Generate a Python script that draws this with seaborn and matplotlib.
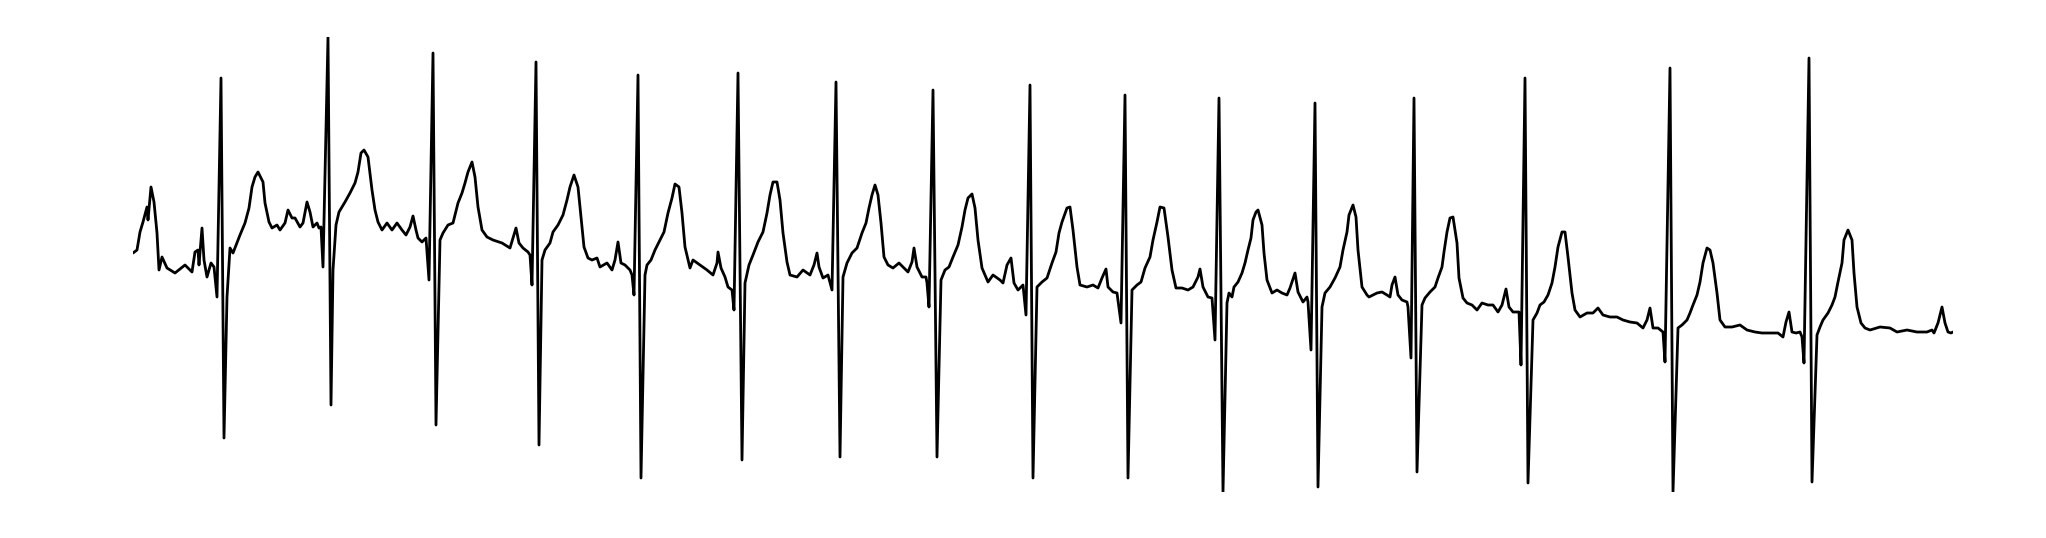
import matplotlib
matplotlib.use("Agg")
import matplotlib.pyplot as plt
import pandas as pd
import seaborn as sns

# ECG trace: sample index and amplitude (arbitrary units)
sample = [
    0, 4, 7, 10, 14, 15, 18, 21, 24, 26, 29, 34, 42, 52, 59, 62, 65, 66, 69, 71, 74, 78, 81, 84,
    88, 91, 94, 97, 100, 107, 112, 116, 119, 122, 125, 130, 132, 136, 139, 144, 147, 152,
    155, 159, 162, 167, 170, 174, 177, 180, 184, 186, 188, 190,
    195, 198, 200, 203, 206, 212, 217, 222, 225, 228, 231, 235, 239, 242, 245, 249, 254, 259,
    264, 269, 273, 277, 280, 283, 285, 289, 293, 296,
    300, 303, 307, 310, 315, 320, 325, 329, 332, 335, 339, 342, 345, 349, 354, 360, 369, 377,
    380, 383, 386, 390, 395, 397, 399,
    403, 406, 409, 412, 417, 420, 425, 430, 434, 437, 441, 445, 448, 451, 455, 459, 464, 467,
    474, 479, 482, 485, 488, 492, 497, 499, 501,
    505, 508, 512, 514, 518, 522, 527, 531, 535, 539, 542, 546, 549, 552, 557, 560, 567, 574,
    580, 584, 585, 588, 592, 595, 599, 601,
    605, 609, 612, 616, 620, 625, 630, 634, 637, 640, 644, 647, 650, 654, 657, 664, 670, 677,
    681, 684, 686, 690, 695, 699,
    703, 707, 710, 714, 719, 724, 729, 733, 736, 739, 742, 745, 748, 751, 755, 760, 766, 771,
    775, 779, 781, 784, 789, 793, 794, 796,
    800, 804, 808, 812, 816, 820, 825, 829, 832, 835, 839, 842, 845, 849, 855, 860, 867, 870,
    874, 878, 881, 885, 890, 893,
    897, 900, 904, 909, 914, 919, 923, 926, 929, 934, 937, 940, 944, 947, 954, 960, 965, 969,
    973, 975, 980, 984, 988,
    992, 995, 999, 1004, 1008, 1012, 1017, 1020, 1024, 1027, 1031, 1035, 1039, 1043, 1049,
    1055, 1060, 1065, 1067, 1070, 1075, 1079, 1082,
    1086, 1090, 1094, 1096, 1099, 1101, 1105, 1109, 1112, 1115, 1118, 1120, 1123, 1125, 1129,
    1131, 1134, 1139, 1144, 1149, 1154, 1157, 1162, 1165, 1170, 1174, 1175, 1178,
    1182, 1185, 1189, 1192, 1197, 1202, 1207, 1210, 1214, 1216, 1220, 1223, 1225, 1229, 1234,
    1236, 1244, 1249, 1254, 1257, 1259, 1262, 1265, 1269, 1274, 1275, 1278,
    1281, 1284, 1289, 1292, 1297, 1302, 1305, 1309, 1311, 1314, 1317, 1320, 1324, 1326, 1330,
    1334, 1339, 1344, 1349, 1355, 1360, 1365, 1369, 1373, 1376, 1380, 1386, 1388,
    1392, 1395, 1400, 1404, 1407, 1411, 1415, 1419, 1422, 1425, 1429, 1432, 1435, 1439, 1442,
    1447, 1454, 1460, 1465, 1470, 1477, 1484, 1490, 1497, 1504, 1510, 1514, 1517, 1520, 1525,
    1530, 1532,
    1537, 1540, 1545, 1549, 1554, 1557, 1560, 1564, 1567, 1570, 1574, 1577, 1580, 1584, 1587,
    1592, 1599, 1607, 1614, 1622, 1629, 1637, 1645, 1650, 1653, 1656, 1659, 1663, 1667, 1669,
    1671,
    1676, 1679, 1684, 1687, 1690, 1695, 1699, 1702, 1705, 1709, 1711, 1715, 1719, 1721, 1724,
    1728, 1732, 1737, 1747, 1757, 1764, 1774, 1784, 1794, 1799, 1801, 1805, 1809, 1812, 1815,
    1818, 1820,
]
amplitude = [
    47, 50, 68, 78, 93, 80, 113, 98, 67, 30, 43, 32, 27, 35, 28, 48, 50, 35, 72, 40, 23, 37, 33, 3,
    222, -138, 3, 52, 47, 65, 77, 92, 113, 123, 128, 118, 97, 78, 72, 75, 70, 77,
    90, 82, 82, 73, 77, 98, 88, 73, 77, 72, 73, 33,
    263, -105, 30, 75, 88, 98, 107, 117, 128, 147, 150, 143, 110, 90, 78, 70, 77, 70,
    77, 70, 65, 73, 84, 70, 62, 58, 62, 20,
    247, -125, 60, 67, 75, 77, 97, 107, 117, 128, 138, 123, 93, 70, 63, 60, 57, 52,
    62, 72, 57, 52, 48, 45, 15,
    238, -145, 40, 50, 57, 68, 75, 85, 100, 113, 125, 113, 83, 53, 42, 40, 42, 33,
    37, 30, 40, 58, 37, 35, 30, 25, 5,
    225, -178, 25, 35, 40, 50, 60, 68, 87, 102, 116, 113, 87, 53, 32, 40, 35, 30,
    25, 37, 48, 32, 23, 13, 10, -10,
    227, -160, 17, 35, 45, 58, 68, 87, 105, 118, 118, 100, 67, 38, 25, 23, 30, 25,
    35, 47, 33, 22, 25, 10,
    218, -157, 23, 37, 47, 52, 67, 77, 92, 105, 115, 105, 77, 43, 35, 32, 37, 32,
    28, 38, 52, 33, 23, 23, 17, -7,
    210, -157, 20, 30, 33, 43, 55, 73, 90, 102, 106, 92, 60, 32, 18, 25, 20, 17,
    35, 42, 17, 10, 15, -15,
    215, -178, 13, 18, 22, 37, 48, 67, 78, 92, 93, 70, 33, 15, 13, 15, 12, 22,
    31, 13, 8, 7, -23,
    205, -178, 10, 15, 18, 32, 43, 60, 78, 93, 92, 63, 30, 12, 12,
    10, 13, 23, 31, 13, 3, 2, -40,
    202, -192, -3, 7, 3, 13, 18, 27, 37, 50, 62, 80, 88, 90, 75,
    47, 20, 7, 10, 7, 5, 12, 27, 8, -2, 3, -2, -50,
    197, -187, -7, 7, 13, 22, 33, 50, 68, 85, 95, 83, 50, 13, 5,
    3, 7, 8, 5, 3, 15, 23, 5, 0, -2, -7, -58,
    202, -172, -5, 2, 8, 13, 22, 33, 48, 68, 82, 83, 57, 22, 2,
    -3, -5, -10, -3, -5, -5, -12, -5, 11, -7, -12, -12, -65,
    222, -183, -20, -13, -5, -2, 5, 17, 33, 53, 68, 68, 43, 7, -10,
    -17, -13, -13, -8, -15, -17, -17, -20, -22, -23, -28, -20, -8, -28, -28,
    -32, -62,
    232, -192, -28, -25, -20, -13, -5, 5, 18, 37, 52, 50, 37, 7, -20,
    -27, -27, -25, -30, -32, -33, -33, -33, -37, -22, -12, -32, -33, -32, -37,
    -63,
    242, -182, -35, -27, -20, -13, -5, 3, 18, 37, 60, 70, 60, 27, -7,
    -23, -28, -30, -27, -28, -32, -30, -32, -32, -30, -33, -23, -7, -23, -32,
    -33, -32,
]

ecg = pd.DataFrame({"sample": sample, "amplitude": amplitude})

sns.set_style("white")
fig = plt.figure(figsize=(20.46, 5.38), dpi=100)
ax = fig.add_axes([133 / 2046, 46 / 538, 1820 / 2046, 455 / 538])

sns.lineplot(data=ecg, x="sample", y="amplitude", sort=False, estimator=None,
             color="black", linewidth=2.0, ax=ax)

ax.set_xlim(ecg["sample"].min(), ecg["sample"].max())
ax.set_ylim(ecg["amplitude"].min(), ecg["amplitude"].max())
ax.axis("off")

fig.savefig("out.png", dpi=100, facecolor="white")
